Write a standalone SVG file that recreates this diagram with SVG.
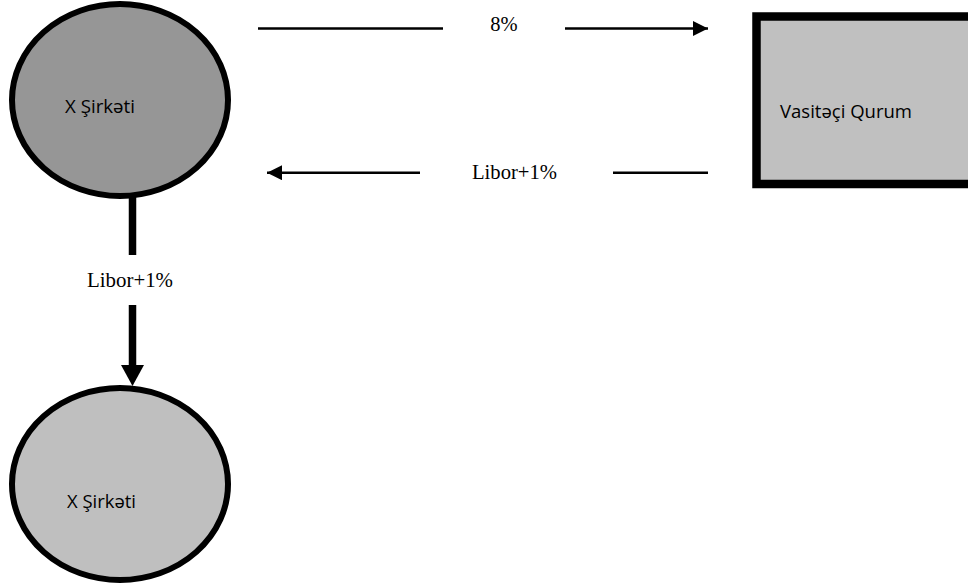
<svg xmlns="http://www.w3.org/2000/svg" width="968" height="586" viewBox="0 0 968 586">
<style>
.node{stroke:#000;stroke-width:6}
.nt{font-family:"Open Sans","Noto Sans","Liberation Sans",sans-serif;font-size:19px;fill:#000}
.lbl{font-family:"Liberation Serif","Times New Roman",serif;font-size:20.5px;fill:#000}
.ln{stroke:#000;fill:none}
</style>
<defs>
<marker id="ah" viewBox="0 0 10 10" refX="10" refY="5" markerWidth="6" markerHeight="6" orient="auto" markerUnits="strokeWidth">
<path d="M0,0 L10,5 L0,10 Z" fill="#000"/>
</marker>
</defs>
<rect width="968" height="586" fill="#fff"/>
<g id="connectors">
<line class="ln" x1="258" y1="28.5" x2="443" y2="28.5" stroke-width="2.5"/>
<line class="ln" x1="565" y1="28.5" x2="708" y2="28.5" stroke-width="2.5" marker-end="url(#ah)"/>
<text class="lbl" x="504" y="30.5" text-anchor="middle">8%</text>
<line class="ln" x1="420" y1="172.7" x2="267" y2="172.7" stroke-width="2.5" marker-end="url(#ah)"/>
<line class="ln" x1="613" y1="172.7" x2="708" y2="172.7" stroke-width="2.5"/>
<text class="lbl" x="514.5" y="179" text-anchor="middle" textLength="85" lengthAdjust="spacingAndGlyphs">Libor+1%</text>
<line class="ln" x1="132.5" y1="196" x2="132.5" y2="255" stroke-width="7.5"/>
<line class="ln" x1="132.5" y1="305" x2="132.5" y2="367" stroke-width="7.5"/>
<path d="M121,365 L144,365 L132.5,386 Z" fill="#000"/>
<text class="lbl" x="130" y="287" text-anchor="middle" textLength="86" lengthAdjust="spacingAndGlyphs">Libor+1%</text>
</g>
<g id="company-top">
<ellipse class="node" cx="120" cy="100" rx="108" ry="96" fill="#969696"/>
<text class="nt" x="65" y="113" textLength="70" lengthAdjust="spacingAndGlyphs">X Şirkəti</text>
</g>
<g id="intermediary">
<rect x="756.5" y="16.5" width="220" height="167.5" fill="#c0c0c0" stroke="#000" stroke-width="8.5"/>
<text class="nt" x="780" y="118" textLength="132" lengthAdjust="spacingAndGlyphs">Vasitəçi Qurum</text>
</g>
<g id="company-bottom">
<ellipse class="node" cx="120" cy="484" rx="108" ry="96" fill="#bfbfbf"/>
<text class="nt" x="67" y="508" textLength="69" lengthAdjust="spacingAndGlyphs">X Şirkəti</text>
</g>
</svg>
